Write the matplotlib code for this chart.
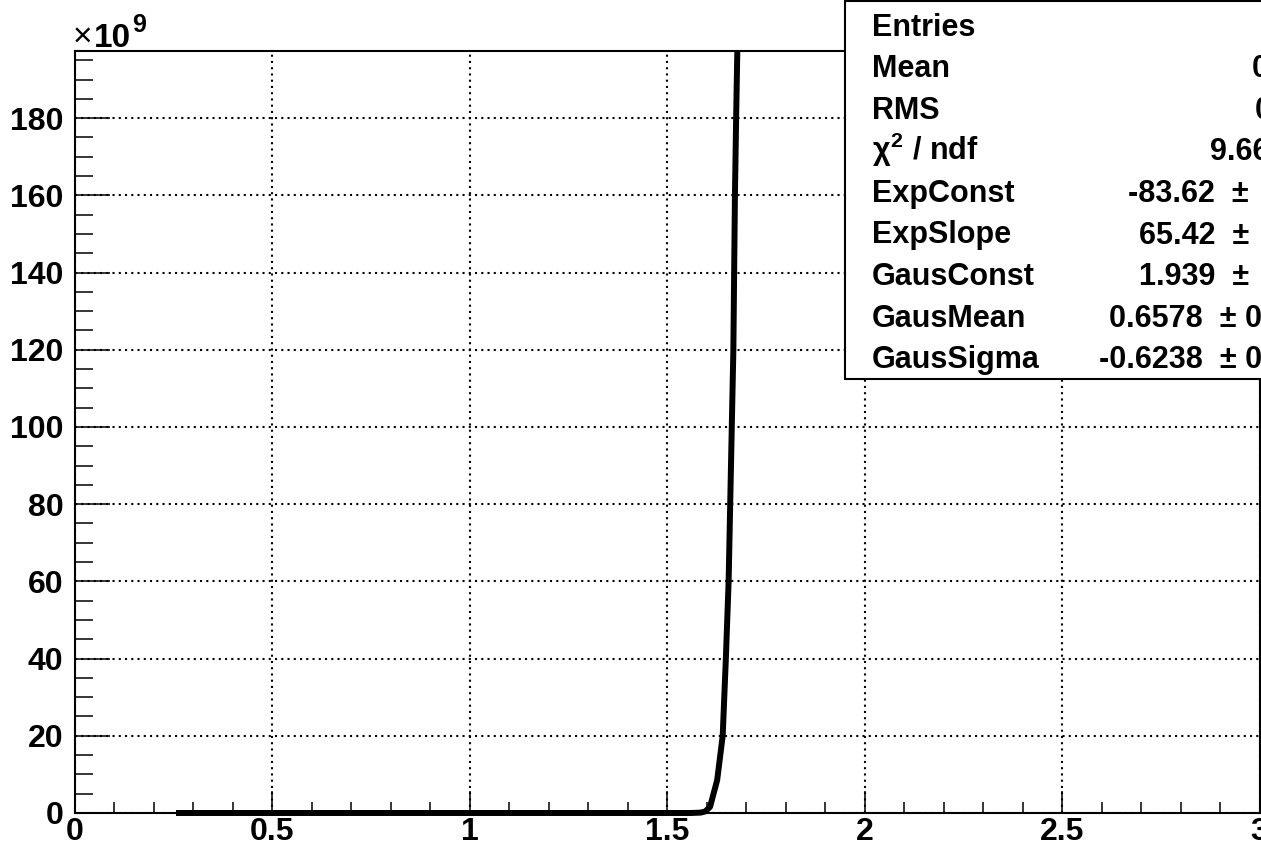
import numpy as np
import matplotlib
matplotlib.use("Agg")
from matplotlib import pyplot as plt
from matplotlib.patches import Rectangle
from matplotlib.ticker import MultipleLocator

# fitted curve, y in units of 1e9
curve_x = [0.257, 1.56, 1.585, 1.597, 1.609, 1.627, 1.641, 1.649, 1.656,
           1.660, 1.664, 1.668, 1.670, 1.672, 1.675, 1.678]
curve_y = [0.0, 0.0, 0.1, 0.4, 1.6, 8.5, 20, 40, 60,
           80, 100, 120, 140, 160, 180, 197.4]

x_ticks = [0, 0.5, 1, 1.5, 2, 2.5, 3]
x_tick_labels = ["0", "0.5", "1", "1.5", "2", "2.5", "3"]
y_ticks = [0, 20, 40, 60, 80, 100, 120, 140, 160, 180]

stat_names = ["Entries", "Mean", "RMS", r"$\chi^{2}$ / ndf", "ExpConst", "ExpSlope",
              "GausConst", "GausMean", "GausSigma"]
stat_values = ["", "0", "0", "9.66", "-83.62  \u00b1", "65.42  \u00b1",
               "1.939  \u00b1", "0.6578  \u00b1 0", "-0.6238  \u00b1 0"]
# anchor (px) and alignment of each value string
stat_value_x = [0, 1252, 1255, 1210, 1249, 1249, 1249, 1262, 1262]
stat_value_ha = ['left', 'left', 'left', 'left', 'right', 'right', 'right', 'right', 'right']

W, H = 1261, 850
plt.rcParams['font.family'] = ['Liberation Sans', 'DejaVu Sans']
plt.rcParams['font.weight'] = 'bold'
plt.rcParams['mathtext.fontset'] = 'custom'
plt.rcParams['mathtext.rm'] = 'Liberation Sans:bold'
plt.rcParams['mathtext.it'] = 'Liberation Sans'
plt.rcParams['mathtext.bf'] = 'Liberation Sans:bold'

fig = plt.figure(figsize=(W / 100, H / 100), dpi=100)


def fx(px):
    return px / W


def fy(py):
    return 1 - py / H


ax = fig.add_axes([fx(74.5), fy(813), fx(1259.5) - fx(74.5), fy(51) - fy(813)])
ax.set_xlim(0, 3)
ax.set_ylim(0, 197.4)

ax.plot(curve_x, curve_y, color='black', lw=4.3, clip_on=False,
        solid_capstyle='butt', solid_joinstyle='round', zorder=5)

ax.set_xticks(x_ticks)
ax.set_xticklabels(x_tick_labels)
ax.set_yticks(y_ticks)
ax.set_yticklabels([str(v) for v in y_ticks])
ax.xaxis.set_minor_locator(MultipleLocator(0.1))
ax.yaxis.set_minor_locator(MultipleLocator(5))

ax.tick_params(axis='x', which='major', direction='in', length=16, width=1.1,
               labelsize=23, pad=3, top=False)
ax.tick_params(axis='x', which='minor', direction='in', length=8, width=1.1, top=False)
ax.tick_params(axis='y', which='major', direction='in', length=25, width=1.1,
               labelsize=23, pad=8, right=False)
ax.tick_params(axis='y', which='minor', direction='in', length=13, width=1.1, right=False)
for lab in ax.get_xticklabels() + ax.get_yticklabels():
    lab.set_fontweight('bold')

ax.grid(True, which='major', color='black', lw=1.5, linestyle=(0, (1, 2)))
for s in ax.spines.values():
    s.set_linewidth(1.5)

# exponent label
fig.text(fx(73), fy(46), "\u00d7", fontsize=24, fontweight='normal', va='baseline')
fig.text(fx(94), fy(47), "10", fontsize=24, fontweight='bold', va='baseline')
fig.text(fx(132), fy(32), "9", fontsize=18, fontweight='bold', va='baseline')

# stats box
box = Rectangle((fx(845), fy(379)), 1.0, fy(1.5) - fy(379), transform=fig.transFigure,
                facecolor='white', edgecolor='black', lw=1.5, zorder=10)
fig.add_artist(box)
for i, (name, val, vx, ha) in enumerate(zip(stat_names, stat_values, stat_value_x, stat_value_ha)):
    base = 35.5 + i * 41.6
    t = fig.text(fx(872), fy(base), name, fontsize=22, fontweight='bold', va='baseline')
    t.set_zorder(11)
    if val:
        t = fig.text(fx(vx), fy(base), val, fontsize=22, fontweight='bold',
                     va='baseline', ha=ha)
        t.set_zorder(11)

fig.savefig("out.png", dpi=100)
